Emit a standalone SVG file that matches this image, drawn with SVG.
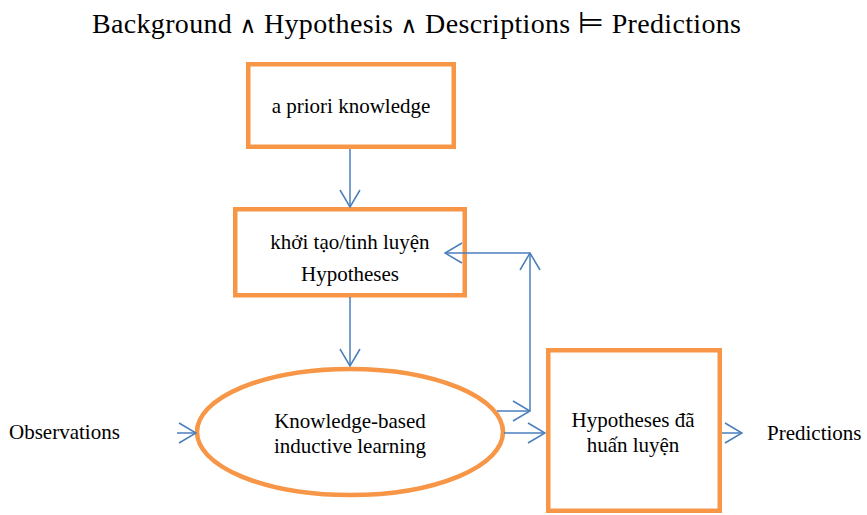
<svg xmlns="http://www.w3.org/2000/svg" width="867" height="515" viewBox="0 0 867 515">
<style>
.node{fill:#fff;stroke:#F79646;stroke-width:4.5}
.t{font-family:"Liberation Serif","Times New Roman",serif;font-size:21px;fill:#000;text-anchor:middle}
.l{font-family:"Liberation Serif","Times New Roman",serif;font-size:21px;fill:#000}
.c{fill:none;stroke:#4A7EBB;stroke-width:1.5}
.sym{font-family:"DejaVu Sans",sans-serif;font-size:23px;font-weight:normal}
</style>
<defs>
<marker id="ah" viewBox="0 0 19 22" refX="18" refY="11" markerWidth="19" markerHeight="22" markerUnits="userSpaceOnUse" orient="auto">
<path d="M1,1 L18,11 L1,21" fill="none" stroke="#4A7EBB" stroke-width="1.5"/>
</marker>
</defs>
<rect width="867" height="515" fill="#fff"/>
<text x="92" y="33" font-family="'Liberation Serif','DejaVu Serif',serif" font-size="28" textLength="649" lengthAdjust="spacing" fill="#000">Background <tspan class="sym">∧</tspan> Hypothesis <tspan class="sym">∧</tspan> Descriptions <tspan font-family="'DejaVu Sans',sans-serif" font-size="30">⊨</tspan> Predictions</text>
<g id="apriori">
<rect class="node" x="248.25" y="64.25" width="205.5" height="82.5"/>
<text class="t" x="351" y="113">a priori knowledge</text>
</g>
<g id="init">
<rect class="node" x="235.25" y="209.25" width="229.5" height="86"/>
<text class="t" x="350" y="249">khởi tạo/tinh luyện</text>
<text class="t" x="350" y="281">Hypotheses</text>
</g>
<g id="kbil">
<ellipse class="node" cx="350" cy="432" rx="153" ry="63"/>
<text class="t" x="350" y="428">Knowledge-based</text>
<text class="t" x="350" y="453">inductive learning</text>
</g>
<g id="trained">
<rect class="node" x="548.25" y="350.25" width="171.5" height="160.5"/>
<text class="t" x="633" y="427">Hypotheses đã</text>
<text class="t" x="633" y="452">huấn luyện</text>
</g>
<g id="observations">
<text class="l" x="9" y="439">Observations</text>
</g>
<g id="predictions">
<text class="l" x="767" y="440">Predictions</text>
</g>
<g id="connectors">
<line class="c" x1="350" y1="149" x2="350" y2="207" marker-end="url(#ah)"/>
<line class="c" x1="350" y1="297" x2="350" y2="366" marker-end="url(#ah)"/>
<line class="c" x1="497" y1="411" x2="530" y2="411" marker-end="url(#ah)"/>
<line class="c" x1="530" y1="411" x2="530" y2="253" marker-end="url(#ah)"/>
<line class="c" x1="530" y1="253" x2="445" y2="253" marker-end="url(#ah)"/>
<line class="c" x1="504" y1="433" x2="545" y2="433" marker-end="url(#ah)"/>
<line class="c" x1="722" y1="433" x2="742" y2="433" marker-end="url(#ah)"/>
<line class="c" x1="177" y1="433" x2="196" y2="433" marker-end="url(#ah)"/>
</g>
</svg>
